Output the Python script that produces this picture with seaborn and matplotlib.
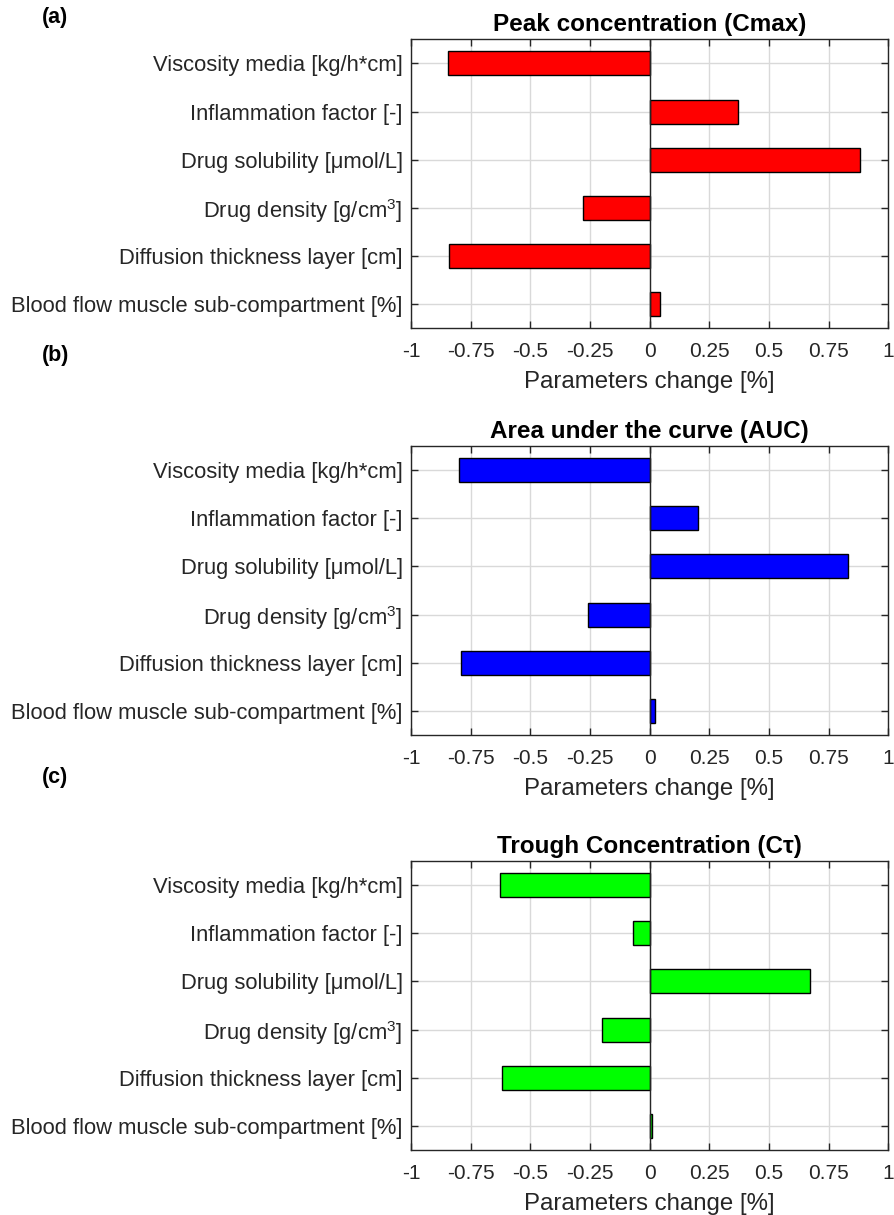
import numpy as np
import pandas as pd
import matplotlib
matplotlib.use("Agg")
import matplotlib.pyplot as plt
import seaborn as sns

sns.set_theme(style="white")
plt.rcParams['font.family'] = ['Liberation Sans', 'DejaVu Sans']
plt.rcParams['mathtext.fontset'] = 'custom'
plt.rcParams['mathtext.rm'] = 'Liberation Sans'
plt.rcParams['mathtext.it'] = 'Liberation Sans'
plt.rcParams['axes.unicode_minus'] = False

parameters = [
    "Viscosity media [kg/h*cm]",
    "Inflammation factor [-]",
    "Drug solubility [μmol/L]",
    r"Drug density [g/cm$^3$]",
    "Diffusion thickness layer [cm]",
    "Blood flow muscle sub-compartment [%]",
]
cmax_change = [-0.847, 0.371, 0.881, -0.279, -0.839, 0.042]
auc_change = [-0.799, 0.201, 0.831, -0.260, -0.789, 0.022]
ctrough_change = [-0.629, -0.069, 0.671, -0.200, -0.618, 0.011]

titles = ["Peak concentration (Cmax)", "Area under the curve (AUC)", "Trough Concentration (Cτ)"]
panel_labels = ["(a)", "(b)", "(c)"]
colors = ["#FF0000", "#0000FF", "#00FF00"]
xticks = [-1, -0.75, -0.5, -0.25, 0, 0.25, 0.5, 0.75, 1]
xticklabels = ["-1", "-0.75", "-0.5", "-0.25", "0", "0.25", "0.5", "0.75", "1"]

W, H = 895, 1215
fig = plt.figure(figsize=(W / 100, H / 100), dpi=100)

axes_px = [(39.3, 328.3), (446, 735), (861, 1150)]
label_y = [17, 355, 777]
left_px, right_px = 411.0, 888.5
text_col = "#262626"

for i, vals in enumerate([cmax_change, auc_change, ctrough_change]):
    top, bot = axes_px[i]
    ax = fig.add_axes([left_px / W, 1 - bot / H, (right_px - left_px) / W, (bot - top) / H])
    df = pd.DataFrame({"param": parameters, "change": vals})
    sns.barplot(data=df, x="change", y="param", orient="h", color=colors[i],
                width=0.5, edgecolor="black", linewidth=1.0, saturation=1, ax=ax, zorder=3)
    ax.axvline(0, color="#262626", lw=1.0, zorder=4)
    ax.set_xlim(-1, 1)
    ax.set_ylim(len(parameters) - 0.5, -0.5)
    ax.set_xticks(xticks)
    ax.set_xticklabels(xticklabels)
    ax.grid(True, color="#d9d9d9", lw=1.0, zorder=0)
    ax.set_axisbelow(True)
    ax.tick_params(axis="x", direction="in", length=5, width=1, top=True, bottom=True,
                   labelsize=15, pad=10, colors=text_col)
    ax.tick_params(axis="y", direction="in", length=5, width=1, left=True, right=True,
                   labelsize=15.8, pad=6, colors=text_col)
    for s in ax.spines.values():
        s.set_color("#262626")
        s.set_linewidth(1.0)
        s.set_visible(True)
    ax.set_ylabel("")
    ax.set_xlabel("Parameters change [%]", fontsize=17.3, color=text_col, labelpad=7)
    ax.set_title(titles[i], fontsize=17.5, fontweight="bold", color="black", pad=6)
    fig.text(42 / W, 1 - label_y[i] / H, panel_labels[i], fontsize=15.5, fontweight="bold",
             va="center", ha="left", color="black")

fig.savefig("out.png", dpi=100)
